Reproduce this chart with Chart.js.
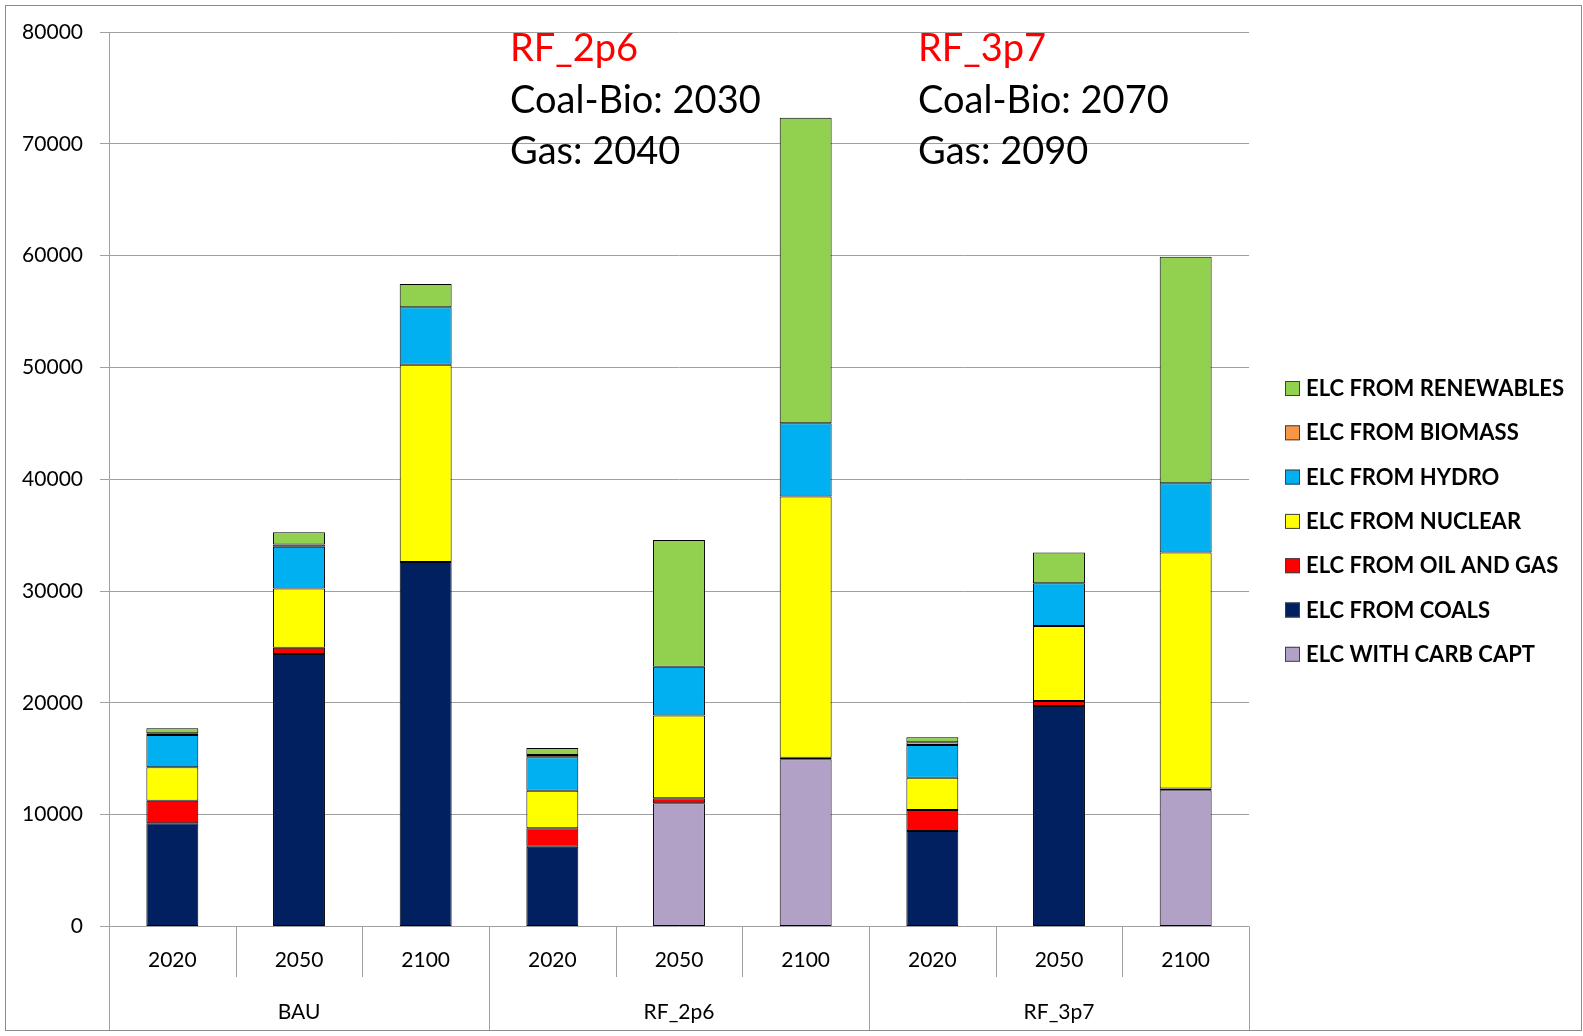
<!DOCTYPE html>
<html>
<head>
<meta charset="utf-8">
<script src="https://cdn.jsdelivr.net/npm/chart.js@4.4.1/dist/chart.umd.min.js"></script>
<style>
body { margin: 0; background: #fff; }
#wrap { position: absolute; left: 0; top: 0; width: 1583px; height: 1036px; }
</style>
</head>
<body>
<div id="wrap"><canvas id="elcChart" width="1583" height="1036"></canvas></div>
<script>
// categories
const years = ["2020", "2050", "2100", "2020", "2050", "2100", "2020", "2050", "2100"];
const groups = ["BAU", "RF_2p6", "RF_3p7"];
const yTicks = [0, 10000, 20000, 30000, 40000, 50000, 60000, 70000, 80000];

// series, bottom of the stack first
const carbCapt   = [0, 0, 0, 0, 11020, 14950, 0, 0, 12190];
const coals      = [9230, 24370, 32600, 7140, 0, 150, 8540, 19720, 150];
const oilGas     = [2020, 560, 0, 1650, 450, 0, 1880, 450, 0];
const nuclear    = [2990, 5310, 17650, 3340, 7390, 23350, 2890, 6710, 21120];
const hydro      = [2890, 3720, 5130, 3010, 4380, 6550, 2930, 3820, 6190];
const biomass    = [150, 200, 0, 200, 0, 0, 240, 0, 0];
const renewables = [450, 1090, 2080, 630, 11330, 27330, 450, 2740, 20260];

const notes = [
    { title: "RF_2p6", coal: "Coal-Bio: 2030", gas: "Gas: 2040", x: 510 },
    { title: "RF_3p7", coal: "Coal-Bio: 2070", gas: "Gas: 2090", x: 918 }
];

const fontFam = "Lato, 'Open Sans', sans-serif";
Chart.defaults.font.family = fontFam;
Chart.defaults.color = "#000";

function makeSet(label, data, color) {
    return {
        label: label,
        data: data,
        backgroundColor: color,
        borderColor: "#000",
        borderWidth: 1,
        borderSkipped: false,
        barPercentage: 0.41,
        categoryPercentage: 1.0
    };
}

const datasets = [
    makeSet("ELC WITH CARB CAPT", carbCapt, "#b2a1c7"),
    makeSet("ELC FROM COALS", coals, "#002060"),
    makeSet("ELC FROM OIL AND GAS", oilGas, "#ff0000"),
    makeSet("ELC FROM NUCLEAR", nuclear, "#ffff00"),
    makeSet("ELC FROM HYDRO", hydro, "#00b0f0"),
    makeSet("ELC FROM BIOMASS", biomass, "#f79646"),
    makeSet("ELC FROM RENEWABLES", renewables, "#92d050")
];

// separators, group names, notes and legend
const extras = {
    id: "extras",
    afterDraw(chart) {
        const ctx = chart.ctx;
        const area = chart.chartArea;
        const xs = chart.scales.x;
        const step = (area.right - area.left) / years.length;

        ctx.save();
        ctx.strokeStyle = "#a0a0a0";
        ctx.lineWidth = 1;
        for (let i = 0; i <= years.length; i++) {
            const x = Math.round(area.left + i * step) + 0.5;
            ctx.beginPath();
            ctx.moveTo(x, area.bottom);
            ctx.lineTo(x, i % 3 === 0 ? 1030 : 977);
            ctx.stroke();
        }

        ctx.fillStyle = "#000";
        ctx.font = "21px " + fontFam;
        ctx.textAlign = "center";
        ctx.textBaseline = "middle";
        for (let g = 0; g < groups.length; g++) {
            ctx.fillText(groups[g], xs.getPixelForValue(g * 3 + 1), 1012);
        }

        ctx.textAlign = "left";
        ctx.font = "38px " + fontFam;
        notes.forEach(n => {
            ctx.fillStyle = "#ff0000";
            ctx.fillText(n.title, n.x, 49);
            ctx.fillStyle = "#000";
            ctx.fillText(n.coal, n.x, 101);
            ctx.fillText(n.gas, n.x, 152);
        });

        // legend, top of the stack first
        ctx.font = "bold 22px " + fontFam;
        const sets = chart.data.datasets.slice().reverse();
        sets.forEach((ds, i) => {
            const y = 388 + i * 44.3;
            ctx.fillStyle = ds.backgroundColor;
            ctx.fillRect(1285, y - 7, 15, 15);
            ctx.strokeStyle = "#404040";
            ctx.strokeRect(1285.5, y - 6.5, 14, 14);
            ctx.fillStyle = "#000";
            ctx.fillText(ds.label, 1306, y + 1);
        });

        ctx.strokeStyle = "#8c8c8c";
        ctx.strokeRect(5.5, 5.5, 1576, 1025);
        ctx.restore();
    }
};

new Chart(document.getElementById("elcChart"), {
    type: "bar",
    data: {
        labels: years,
        datasets: datasets
    },
    options: {
        responsive: false,
        animation: false,
        layout: { padding: { top: 32, right: 334, bottom: 0, left: 0 } },
        plugins: {
            legend: { display: false },
            tooltip: { enabled: false }
        },
        scales: {
            x: {
                stacked: true,
                grid: { display: false, drawTicks: false },
                border: { display: false },
                ticks: { font: { size: 21 }, color: "#000", padding: 21, maxRotation: 0 },
                afterFit(scale) { scale.height = 1036 - 926.5; }
            },
            y: {
                stacked: true,
                min: 0,
                max: 80000,
                afterBuildTicks(scale) { scale.ticks = yTicks.map(v => ({ value: v })); },
                grid: { color: "#a0a0a0", lineWidth: 1, tickLength: 9, tickColor: "#a0a0a0" },
                border: { display: true, color: "#a0a0a0" },
                ticks: {
                    font: { size: 21 },
                    color: "#000",
                    padding: 17,
                    callback: v => String(v)
                },
                afterFit(scale) { scale.width = 109; }
            }
        }
    },
    plugins: [extras]
});
</script>
</body>
</html>
